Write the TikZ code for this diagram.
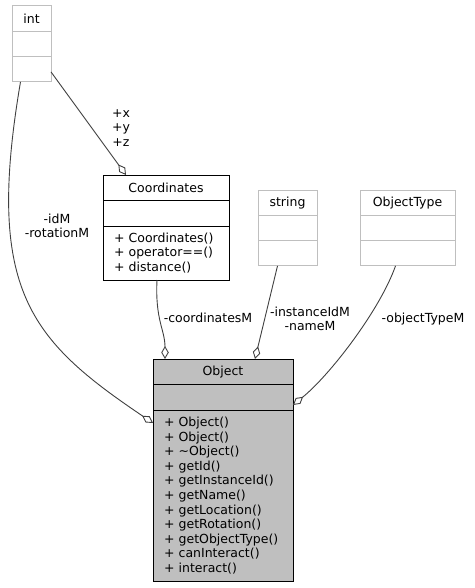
\documentclass[tikz,border=0pt]{standalone}
\usepackage{fontspec}
\setmainfont{DejaVu Sans}
\usetikzlibrary{positioning,arrows.meta}

\definecolor{boxgray}{HTML}{BFBFBF}
\definecolor{edgegray}{HTML}{404040}

\tikzset{
  umlfont/.style={font=\fontsize{12.5}{14.6}\selectfont},
  umlpart/.style={draw=black, line width=1pt, fill=white, inner sep=0pt, outer sep=0pt, umlfont},
  umlgray/.style={umlpart, draw=boxgray},
  umlobj/.style={umlpart, fill=boxgray},
  umlmeth/.style={align=left, inner xsep=11pt},
  assoc/.style={draw=edgegray, line width=0.9pt, -{Diamond[open,length=13pt,width=7.5pt]}},
  memberlbl/.style={umlfont, align=center, inner sep=0pt}
}

\begin{document}
\begin{tikzpicture}[x=1pt,y=-1pt]
\useasboundingbox (0,0) rectangle (474,588);

% int
\node[umlgray, minimum width=39pt, minimum height=25.3pt, anchor=north west] (inttitle) at (12,6) {int};
\node[umlgray, minimum width=39pt, minimum height=25.3pt, below=0pt of inttitle] (intattr) {};
\node[umlgray, minimum width=39pt, minimum height=25.3pt, below=0pt of intattr] (intmeth) {};

% Coordinates
\node[umlpart, minimum width=126pt, minimum height=25.5pt, anchor=north west] (coordtitle) at (103,175) {Coordinates};
\node[umlpart, minimum width=126pt, minimum height=25.5pt, below=0pt of coordtitle] (coordattr) {};
\node[umlpart, umlmeth, text width=104pt, minimum height=54pt, below=0pt of coordattr] (coordmeth)
  {+ Coordinates()\\+ operator==()\\+ distance()};

% string
\node[umlgray, minimum width=59pt, minimum height=25.3pt, anchor=north west] (strtitle) at (258,190) {string};
\node[umlgray, minimum width=59pt, minimum height=25.3pt, below=0pt of strtitle] (strattr) {};
\node[umlgray, minimum width=59pt, minimum height=25.3pt, below=0pt of strattr] (strmeth) {};

% ObjectType
\node[umlgray, minimum width=95pt, minimum height=25.3pt, anchor=north west] (typetitle) at (360,190) {ObjectType};
\node[umlgray, minimum width=95pt, minimum height=25.3pt, below=0pt of typetitle] (typeattr) {};
\node[umlgray, minimum width=95pt, minimum height=25.3pt, below=0pt of typeattr] (typemeth) {};

% Object
\node[umlobj, minimum width=140pt, minimum height=25.5pt, anchor=north west] (objtitle) at (153,359) {Object};
\node[umlobj, minimum width=140pt, minimum height=25.5pt, below=0pt of objtitle] (objattr) {};
\node[umlobj, umlmeth, text width=118pt, minimum height=171pt, below=0pt of objattr] (objmeth)
  {+ Object()\\+ Object()\\+ \textasciitilde Object()\\+ getId()\\+ getInstanceId()\\+ getName()\\+ getLocation()\\+ getRotation()\\+ getObjectType()\\+ canInteract()\\+ interact()};

% associations
\draw[assoc] ([yshift=10pt]intmeth.south east) -- ([xshift=-40pt]coordtitle.north);
\node[memberlbl] (xyzlbl) at (121,128) {+x\\+y\\+z};

\draw[assoc] ([xshift=-11pt]intmeth.south) .. controls (-15,290) and (30,340) .. ([yshift=-13pt]objmeth.north west);
\node[memberlbl] (idlbl) at (57,226) {-idM\\-rotationM};

\draw[assoc] ([xshift=-9pt]coordmeth.south) .. controls (155,320) and (165,330) .. ([xshift=-58pt]objtitle.north);
\node[memberlbl] (coordlbl) at (208,318) {-coordinatesM};

\draw[assoc] ([xshift=-10pt]strmeth.south) -- ([xshift=32pt]objtitle.north);
\node[memberlbl] (strlbl) at (310,319) {-instanceIdM\\-nameM};

\draw[assoc] ([xshift=-12pt]typemeth.south) .. controls (380,310) and (330,375) .. ([yshift=5pt]objattr.south east);
\node[memberlbl] (typelbl) at (423,319) {-objectTypeM};

\end{tikzpicture}
\end{document}
